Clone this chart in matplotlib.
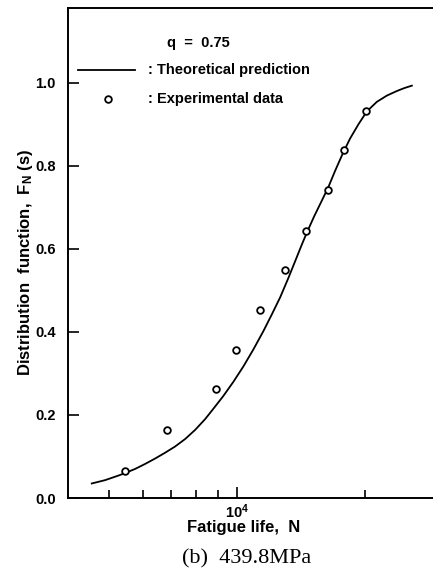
import numpy as np
import matplotlib
matplotlib.use('Agg')
import matplotlib.pyplot as plt
from matplotlib.ticker import FixedLocator, FixedFormatter, NullFormatter

plt.rcParams['font.family'] = ['Liberation Sans', 'DejaVu Sans']
plt.rcParams['font.weight'] = 'bold'
plt.rcParams['mathtext.fontset'] = 'custom'
plt.rcParams['mathtext.rm'] = 'Liberation Sans:bold'
plt.rcParams['mathtext.it'] = 'Liberation Sans:bold'
plt.rcParams['mathtext.bf'] = 'Liberation Sans:bold'

# theoretical prediction (q = 0.75)
curve_n = [4550, 4891, 5256, 5450, 5754, 6074, 6412, 6769, 7146, 7545, 7965, 8409,
           8794, 9285, 9802, 10347, 10924, 11531, 12067, 12623, 13203, 13691, 14195,
           14588, 15175, 15822, 16398, 17006, 17731, 18449, 19297, 20196, 21317, 22503,
           23752, 24715, 25773]
curve_f = [0.035, 0.043, 0.054, 0.060, 0.070, 0.082, 0.095, 0.109, 0.124, 0.142, 0.164,
           0.190, 0.215, 0.246, 0.280, 0.317, 0.358, 0.402, 0.442, 0.483, 0.530, 0.570,
           0.610, 0.639, 0.678, 0.716, 0.749, 0.788, 0.830, 0.866, 0.900, 0.931, 0.954,
           0.969, 0.980, 0.987, 0.993]

# experimental data
exp_n = [5450, 6835, 8926, 9946, 11327, 12970, 14530, 16400, 17860, 20070]
exp_f = [0.066, 0.164, 0.262, 0.357, 0.453, 0.549, 0.644, 0.742, 0.837, 0.933]

fig = plt.figure(figsize=(4.33, 5.70), dpi=100)
ax = fig.add_axes([68 / 433, 72 / 570, 425 / 433, 490 / 570])

ax.plot(curve_n, curve_f, 'k-', lw=1.3, solid_joinstyle='round')
ax.plot(exp_n, exp_f, 'o', ms=4.8, mfc='white', mec='k', mew=1.3)

ax.set_xscale('log')
ax.set_xlim(4000, 40000)
ax.set_ylim(0, 1.18)

ax.xaxis.set_major_locator(FixedLocator([1e4]))
ax.xaxis.set_major_formatter(FixedFormatter([r'$\mathbf{10^{4}}$']))
ax.xaxis.set_minor_locator(FixedLocator([5000, 6000, 7000, 8000, 9000, 20000, 30000]))
ax.xaxis.set_minor_formatter(NullFormatter())
ax.set_yticks([0.0, 0.2, 0.4, 0.6, 0.8, 1.0])
ax.set_yticklabels(['0.0', '0.2', '0.4', '0.6', '0.8', '1.0'])

ax.tick_params(axis='both', which='major', direction='in', length=8, width=1.2, labelsize=10.5)
ax.tick_params(axis='x', which='minor', direction='in', length=5.5, width=1.2)
ax.tick_params(axis='y', which='major', pad=9)
ax.tick_params(axis='x', which='major', pad=3)
for s in ax.spines.values():
    s.set_linewidth(1.4)

ax.set_xlabel('Fatigue life,  N', fontsize=12, fontweight='bold')
ax.xaxis.set_label_coords(0.414, -0.045)
ax.set_ylabel(r'Distribution  function,  $\mathbf{F_N}$ (s)', fontsize=12, fontweight='bold')
ax.yaxis.set_label_coords(-0.078, 0.48)

# legend drawn by hand
ax.text(0.233, 0.929, 'q  =  0.75', transform=ax.transAxes, fontsize=10.5, va='center')
ax.plot([0.0235, 0.158], [0.873, 0.873], 'k-', lw=1.3, transform=ax.transAxes)
ax.text(0.188, 0.873, ': Theoretical prediction', transform=ax.transAxes, fontsize=10.5, va='center')
ax.plot([0.094], [0.814], 'o', ms=4.8, mfc='white', mec='k', mew=1.3, transform=ax.transAxes)
ax.text(0.188, 0.814, ': Experimental data', transform=ax.transAxes, fontsize=10.5, va='center')

fig.text(0.570, 11 / 570, '(b)  439.8MPa', fontsize=16, family='Liberation Serif',
         fontweight='normal', ha='center', va='center')

fig.savefig('out.png', dpi=100)
